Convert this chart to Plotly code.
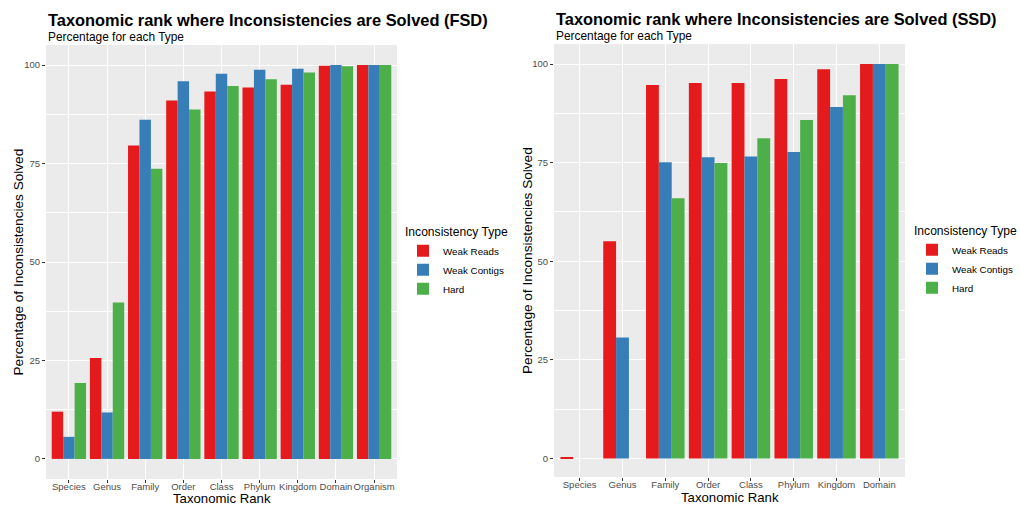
import plotly.graph_objects as go

ranks_fsd = ["Species", "Genus", "Family", "Order", "Class", "Phylum", "Kingdom", "Domain", "Organism"]
ranks_ssd = ["Species", "Genus", "Family", "Order", "Class", "Phylum", "Kingdom", "Domain"]
types = ["Weak Reads", "Weak Contigs", "Hard"]
colors = ["#E41A1C", "#377EB8", "#4DAF4A"]

fsd_weak_reads = [12.0, 25.6, 79.6, 91.0, 93.3, 94.3, 95.0, 99.8, 100.0]
fsd_weak_contigs = [5.6, 11.8, 86.1, 95.9, 97.8, 98.8, 99.1, 100.0, 100.0]
fsd_hard = [19.3, 39.7, 73.7, 88.7, 94.7, 96.4, 98.1, 99.7, 100.0]

ssd_weak_reads = [0.3, 55.1, 94.7, 95.2, 95.2, 96.2, 98.7, 100.0]
ssd_weak_contigs = [0.0, 30.7, 75.1, 76.4, 76.6, 77.7, 89.1, 100.0]
ssd_hard = [0.0, 0.0, 66.0, 74.9, 81.2, 85.8, 92.1, 100.0]

yticks = [0, 25, 50, 75, 100]

W, H = 1020, 505
FONT = "Liberation Sans, Arial, sans-serif"

fig = go.Figure()

fsd = [fsd_weak_reads, fsd_weak_contigs, fsd_hard]
ssd = [ssd_weak_reads, ssd_weak_contigs, ssd_hard]
for i, t in enumerate(types):
    fig.add_trace(go.Bar(x=ranks_fsd, y=fsd[i], name=t, marker_color=colors[i],
                         marker_line_width=0, xaxis="x", yaxis="y",
                         offsetgroup=str(i), legend="legend"))
for i, t in enumerate(types):
    fig.add_trace(go.Bar(x=ranks_ssd, y=ssd[i], name=t, marker_color=colors[i],
                         marker_line_width=0, xaxis="x2", yaxis="y2",
                         offsetgroup=str(i), legend="legend2"))

def px_x(v):
    return v / W

def px_y(v):
    return 1 - v / H

ydom = [px_y(479), px_y(45)]
ydom2 = [px_y(477), px_y(44)]

axis_common = dict(
    showline=False, zeroline=False, ticks="outside", ticklen=3, tickwidth=1,
    tickcolor="#333333", tickfont=dict(family=FONT, size=9.5, color="#4D4D4D"),
    showgrid=True, gridcolor="white", gridwidth=1.1, automargin=False,
)
minor_grid = dict(tickvals=[12.5, 37.5, 62.5, 87.5], showgrid=True,
                  gridcolor="white", gridwidth=0.5, ticks="")

legend_common = dict(
    xanchor="left", yanchor="middle", xref="container", yref="container",
    title=dict(text="Inconsistency Type", font=dict(size=12.1, family=FONT, color="black")),
    font=dict(size=9.8, family=FONT, color="black"), bgcolor="rgba(0,0,0,0)",
    tracegroupgap=0,
)

fig.update_layout(
    width=W, height=H, margin=dict(l=0, r=0, t=0, b=0, autoexpand=False),
    paper_bgcolor="white", plot_bgcolor="#EBEBEB",
    barmode="group", bargap=0.1, bargroupgap=0,
    font=dict(family=FONT, color="black"),
    xaxis=dict(domain=[px_x(46), px_x(397)], anchor="y", type="category",
               range=[-0.6, 8.6], tickangle=0, ticklabelstandoff=-4, **axis_common),
    yaxis=dict(domain=ydom, anchor="x", range=[-5.1, 105.1], tickvals=yticks,
               minor=minor_grid, **axis_common),
    xaxis2=dict(domain=[px_x(554), px_x(905)], anchor="y2", type="category",
                range=[-0.6, 7.6], tickangle=0, ticklabelstandoff=-4, **axis_common),
    yaxis2=dict(domain=ydom2, anchor="x2", range=[-4.7, 105.1], tickvals=yticks,
                minor=minor_grid, **axis_common),
    legend=dict(x=px_x(403), y=px_y(262), **legend_common),
    legend2=dict(x=px_x(912), y=px_y(261), **legend_common),
)

ann = []
def add_text(x, y, text, size, bold=False, angle=0, xanchor="left", yanchor="middle"):
    ann.append(dict(xref="paper", yref="paper", x=px_x(x), y=px_y(y),
                    text=("<b>%s</b>" % text) if bold else text,
                    showarrow=False, xanchor=xanchor, yanchor=yanchor, textangle=angle,
                    font=dict(family=FONT, size=size, color="black")))

add_text(46, 20, "Taxonomic rank where Inconsistencies are Solved (FSD)", 16.4, bold=True)
add_text(46, 37, "Percentage for each Type", 11.9)
add_text(554, 19, "Taxonomic rank where Inconsistencies are Solved (SSD)", 16.4, bold=True)
add_text(554, 36, "Percentage for each Type", 11.9)
add_text((46 + 397) / 2, 498.5, "Taxonomic Rank", 13.2, xanchor="center")
add_text((554 + 905) / 2, 497.5, "Taxonomic Rank", 13.2, xanchor="center")
add_text(17.5, 262, "Percentage of Inconsistencies Solved", 13.6, angle=-90, xanchor="center")
add_text(527, 261, "Percentage of Inconsistencies Solved", 13.6, angle=-90, xanchor="center")
fig.update_layout(annotations=ann)

fig.write_html("out.html")
